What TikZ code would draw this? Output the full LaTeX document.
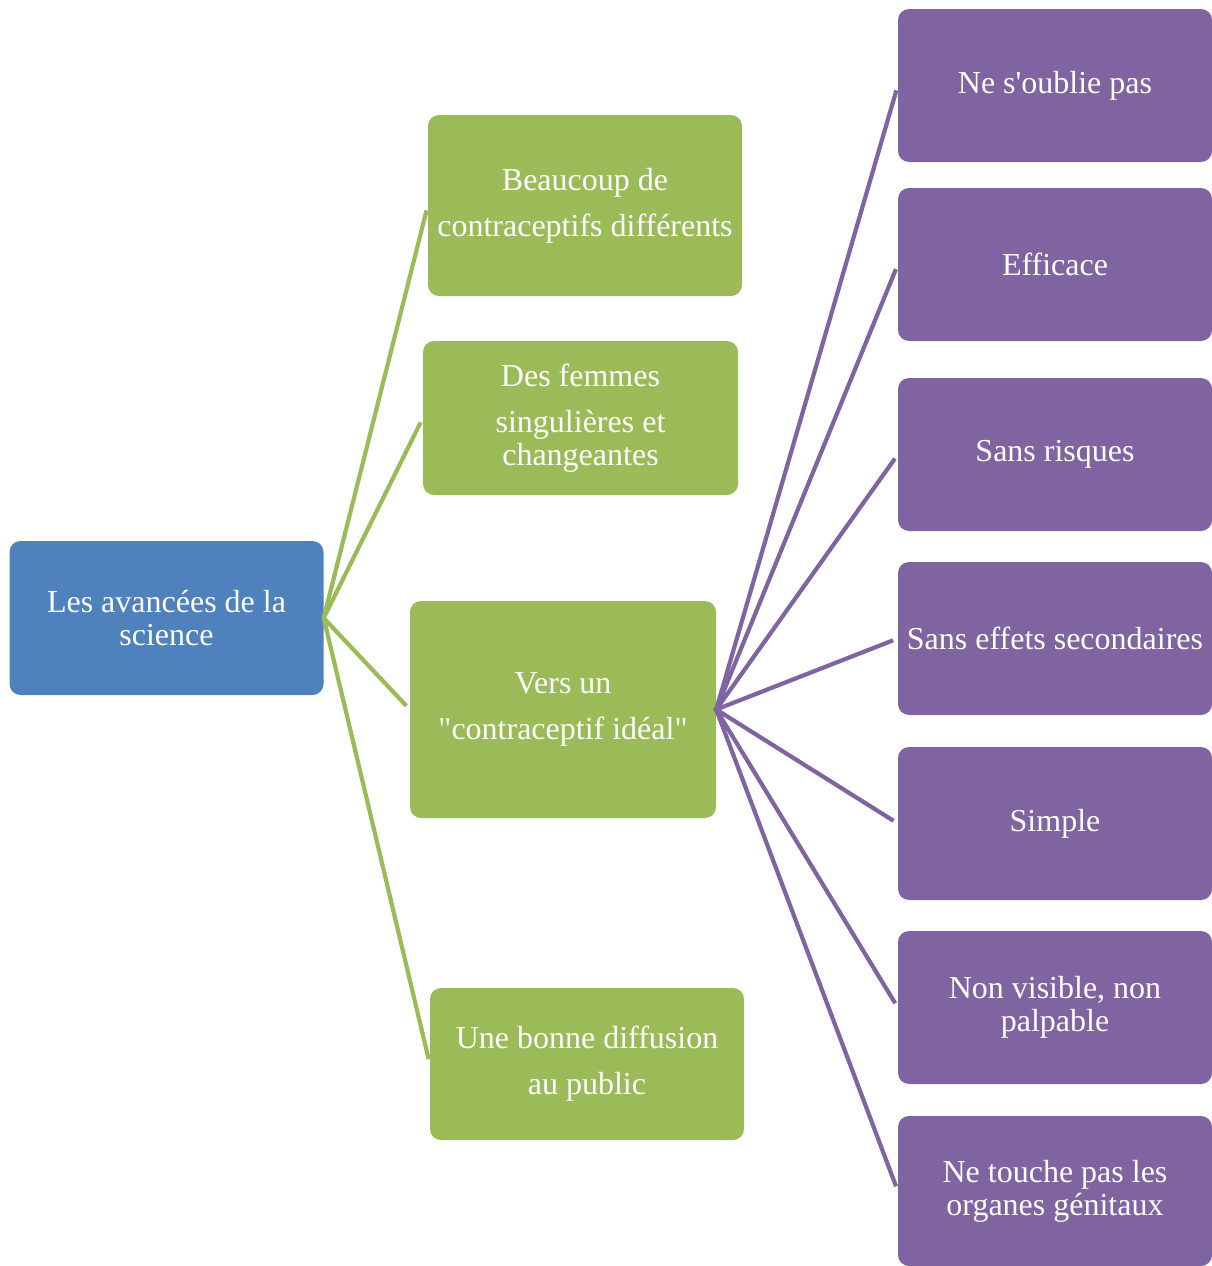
\documentclass[tikz,border=0pt]{standalone}
\usepackage{fontspec}
\setmainfont{Liberation Serif}[Ligatures=TeXOff]
\definecolor{cblue}{HTML}{4F81BD}
\definecolor{cgreen}{HTML}{9BBB59}
\definecolor{cpurple}{HTML}{8064A2}
\begin{document}
\begin{tikzpicture}[x=1pt,y=-1pt,
  box/.style={rounded corners=11pt, inner sep=0pt, text=white, align=center,
    font=\fontsize{32}{33}\selectfont, minimum width=314pt},
  rootbox/.style={box, fill=cblue, minimum height=154pt},
  gbox/.style={box, fill=cgreen},
  pbox/.style={box, fill=cpurple, minimum height=153pt},
  glink/.style={draw=cgreen, line width=4.2pt, shorten >=5pt},
  plink/.style={draw=cpurple, line width=4.2pt, shorten >=5pt, shorten <=-2pt}]
\useasboundingbox (0,0) rectangle (1212,1266);
\node[rootbox] (root) at (166.5,618) {Les avancées de la\\science};
\node[gbox, minimum height=181pt] (g1) at (585,205.5) {Beaucoup de\\[13pt]contraceptifs différents};
\node[gbox, minimum height=154pt, minimum width=315pt] (g2) at (580.5,418) {Des femmes\\[13pt]singulières et\\changeantes};
\node[gbox, minimum height=217pt, minimum width=306pt] (g3) at (563,709.5) {Vers un\\[13pt]"contraceptif idéal"};
\node[gbox, minimum height=152pt] (g4) at (587,1064) {Une bonne diffusion\\[13pt]au public};
\node[pbox] (p1) at (1055,85.5) {Ne s'oublie pas};
\node[pbox] (p2) at (1055,264.5) {Efficace};
\node[pbox] (p3) at (1055,454.5) {Sans risques};
\node[pbox] (p4) at (1055,638.5) {Sans effets secondaires};
\node[pbox] (p5) at (1055,823.5) {Simple};
\node[pbox] (p6) at (1055,1007.5) {Non visible, non\\palpable};
\node[pbox, minimum height=150pt] (p7) at (1055,1191) {Ne touche pas les\\organes génitaux};
\foreach \n in {g1,g2,g3,g4} \draw[glink] (root.east) -- (\n.west);
\foreach \n in {p1,p2,p3,p4,p5,p6,p7} \draw[plink] (g3.east) -- (\n.west);
\end{tikzpicture}
\end{document}
